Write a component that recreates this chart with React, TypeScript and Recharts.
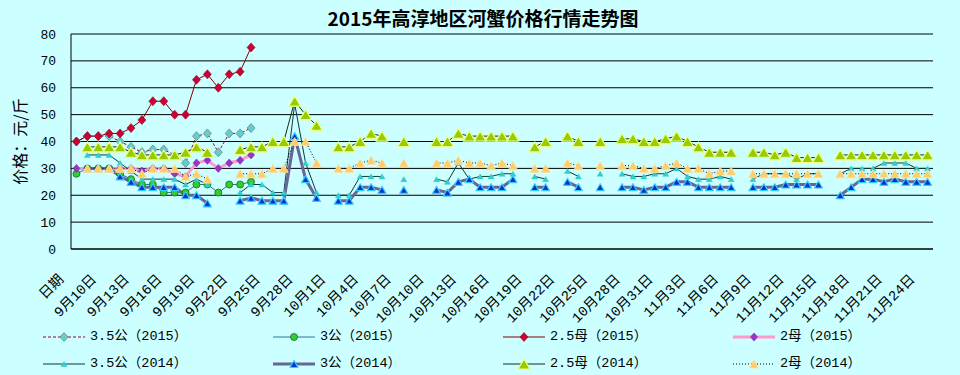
import React from 'react';
import { LineChart, Line, XAxis, YAxis, CartesianGrid, Legend } from 'recharts';

const categories = [
  '日期', '9月8日', '9月9日', '9月10日', '9月11日', '9月12日', '9月13日', '9月14日', '9月15日', '9月16日',
  '9月17日', '9月18日', '9月19日', '9月20日', '9月21日', '9月22日', '9月23日', '9月24日', '9月25日', '9月26日',
  '9月27日', '9月28日', '9月29日', '9月30日', '10月1日', '10月2日', '10月3日', '10月4日', '10月5日', '10月6日',
  '10月7日', '10月8日', '10月9日', '10月10日', '10月11日', '10月12日', '10月13日', '10月14日', '10月15日', '10月16日',
  '10月17日', '10月18日', '10月19日', '10月20日', '10月21日', '10月22日', '10月23日', '10月24日', '10月25日', '10月26日',
  '10月27日', '10月28日', '10月29日', '10月30日', '10月31日', '11月1日', '11月2日', '11月3日', '11月4日', '11月5日',
  '11月6日', '11月7日', '11月8日', '11月9日', '11月10日', '11月11日', '11月12日', '11月13日', '11月14日', '11月15日',
  '11月16日', '11月17日', '11月18日', '11月19日', '11月20日', '11月21日', '11月22日', '11月23日', '11月24日',
];

const n = null;

// 2015 series (first 17 categories)
const gong35_2015 = [40, 42, 42, 42, 40, 38, 36, 37, 37, 35, 32, 42, 43, 36, 43, 43, 45];
const gong3_2015 = [28, 30, 30, 30, 28, 26, 24, 24, 21, 21, 21, 24, 24, 21, 24, 24, 25];
const mu25_2015 = [40, 42, 42, 43, 43, 45, 48, 55, 55, 50, 50, 63, 65, 60, 65, 66, 75];
const mu2_2015 = [30, 30, 30, 30, 30, 30, 29, 30, 30, 28, 27, 32, 33, 30, 32, 33, 35];

// 2014 series (all categories)
const gong35_2014 = [
  n, 35, 35, 35, 32, 29, 26, 26, 26, 26, 24, 26, 24, n, n, 21, 24, 24, 21, 21,
  54, 32, 21, n, 20, 20, 27, 27, 27, n, 26, n, n, 26, 25, 32, 26, 27, 27, 28,
  28, n, 27, 26, n, 29, 27, n, 28, n, 28, 27, 27, 28, 28, 30, 27, 26, 26, 27,
  26, n, 26, 28, 28, 28, 26, 28, 28, n, 28, 30, 30, 30, 32, 32, 32, 30, 30,
];
const gong3_2014 = [
  n, 30, 30, 30, 27, 25, 23, 23, 23, 23, 20, 20, 17, n, n, 18, 19, 18, 18, 18,
  42, 26, 19, n, 18, 18, 23, 23, 22, n, 22, n, n, 22, 21, 25, 26, 23, 23, 23,
  26, n, 23, 23, n, 25, 23, n, 23, n, 23, 23, 22, 23, 23, 25, 25, 23, 23, 23,
  23, n, 23, 23, 23, 24, 24, 24, 24, n, 20, 23, 26, 26, 25, 26, 25, 25, 25,
];
const mu25_2014 = [
  n, 38, 38, 38, 38, 36, 35, 35, 35, 35, 36, 38, 36, n, n, 37, 38, 38, 40, 40,
  55, 50, 46, n, 38, 38, 40, 43, 42, n, 40, n, n, 40, 40, 43, 42, 42, 42, 42,
  42, n, 38, 40, n, 42, 40, n, 40, n, 41, 41, 40, 40, 41, 42, 40, 38, 36, 36,
  36, n, 36, 36, 35, 36, 34, 34, 34, n, 35, 35, 35, 35, 35, 35, 35, 35, 35,
];
const mu2_2014 = [
  n, 30, 30, 30, 30, 30, 28, 30, 30, 30, 27, 28, 26, n, n, 28, 28, 28, 30, 30,
  40, 40, 32, n, 30, 30, 32, 33, 32, n, 32, n, n, 32, 32, 33, 32, 32, 31, 32,
  31, n, 30, 30, n, 32, 31, n, 31, n, 31, 31, 30, 30, 31, 32, 30, 30, 28, 29,
  29, n, 28, 28, 28, 28, 28, 28, 28, n, 28, 28, 28, 28, 28, 28, 28, 28, 28,
];

const yTicks = [0, 10, 20, 30, 40, 50, 60, 70, 80];

type Marker = { shape: 'diamond' | 'circle' | 'tri'; w: number; h: number; fill: string; stroke: string; sw: number };
type SeriesDef = { key: string; name: string; values: (number | null)[]; stroke: string; width: number; dash?: string; marker: Marker };

const seriesDefs: SeriesDef[] = [
  { key: 'g35_15', name: '3.5公（2015）', values: gong35_2015, stroke: '#990033', width: 1, dash: '3 2',
    marker: { shape: 'diamond', w: 8, h: 9, fill: '#66CCCC', stroke: '#5E8F8F', sw: 0.8 } },
  { key: 'g3_15', name: '3公（2015）', values: gong3_2015, stroke: '#2A74A6', width: 1,
    marker: { shape: 'circle', w: 7, h: 7, fill: '#33CC33', stroke: '#1B6B1B', sw: 0.8 } },
  { key: 'm25_15', name: '2.5母（2015）', values: mu25_2015, stroke: '#800000', width: 1,
    marker: { shape: 'diamond', w: 8, h: 9, fill: '#CC0033', stroke: '#990022', sw: 0.6 } },
  { key: 'm2_15', name: '2母（2015）', values: mu2_2015, stroke: '#FF99CC', width: 3,
    marker: { shape: 'diamond', w: 7, h: 8, fill: '#9933CC', stroke: '#7A2A99', sw: 0.6 } },
  { key: 'g35_14', name: '3.5公（2014）', values: gong35_2014, stroke: '#0B3B3B', width: 1,
    marker: { shape: 'tri', w: 6, h: 5, fill: '#33CCCC', stroke: '#33CCCC', sw: 0.5 } },
  { key: 'g3_14', name: '3公（2014）', values: gong3_2014, stroke: '#666699', width: 3,
    marker: { shape: 'tri', w: 8, h: 7, fill: '#0033CC', stroke: '#33CCFF', sw: 1.2 } },
  { key: 'm25_14', name: '2.5母（2014）', values: mu25_2014, stroke: '#1A2A1A', width: 1,
    marker: { shape: 'tri', w: 12, h: 10, fill: '#99CC00', stroke: '#EEFF88', sw: 1.2 } },
  { key: 'm2_14', name: '2母（2014）', values: mu2_2014, stroke: '#000000', width: 1, dash: '1 2',
    marker: { shape: 'tri', w: 9, h: 8, fill: '#FFCC66', stroke: '#FFE0A0', sw: 0.8 } },
];

const chartData = categories.map((c, i) => {
  const row: Record<string, any> = { x: i + 0.5, cat: c };
  seriesDefs.forEach((s) => {
    const v = s.values[i];
    row[s.key] = v === undefined ? null : v;
  });
  return row;
});

const labelTicks = categories.map((_, i) => i).filter((i) => i % 3 === 0).map((i) => i + 0.5);
const boundaryTicks = categories.map((_, i) => i).concat([categories.length]);

const MONO = '"Liberation Mono", "Noto Sans CJK SC", monospace';
const CJK = '"Noto Sans CJK SC", sans-serif';

function drawMarker(m: Marker, cx: number, cy: number, key?: string | number) {
  if (m.shape === 'circle') {
    return <circle key={key} cx={cx} cy={cy} r={m.w / 2} fill={m.fill} stroke={m.stroke} strokeWidth={m.sw} />;
  }
  if (m.shape === 'diamond') {
    const pts = `${cx},${cy - m.h / 2} ${cx + m.w / 2},${cy} ${cx},${cy + m.h / 2} ${cx - m.w / 2},${cy}`;
    return <polygon key={key} points={pts} fill={m.fill} stroke={m.stroke} strokeWidth={m.sw} />;
  }
  const pts = `${cx},${cy - m.h / 2} ${cx + m.w / 2},${cy + m.h / 2} ${cx - m.w / 2},${cy + m.h / 2}`;
  return <polygon key={key} points={pts} fill={m.fill} stroke={m.stroke} strokeWidth={m.sw} strokeLinejoin="round" />;
}

function makeDot(m: Marker) {
  return (props: any) => {
    const { cx, cy, index, value } = props;
    if (cx == null || cy == null || value == null || Number.isNaN(cy)) return <g key={`e${index}`} />;
    return drawMarker(m, cx, cy, `d${index}`);
  };
}

const XLabelTick = (props: any) => {
  const { x, y, payload } = props;
  const label = categories[Math.round(payload.value - 0.5)];
  return (
    <g transform={`translate(${x - 12},${y + 23}) rotate(-45)`}>
      <text x={0} y={0} textAnchor="end" fontFamily={MONO} fontSize={14} fill="#000">
        {label}
      </text>
    </g>
  );
};

const legendCols = [43, 273, 503, 733];
const legendRows = [11, 38];

const LegendContent = () => (
  <div style={{ position: 'relative', width: 960, height: 50 }}>
    {seriesDefs.map((s, i) => {
      const col = legendCols[i % 4];
      const row = legendRows[Math.floor(i / 4)];
      return (
        <div key={s.key} style={{ position: 'absolute', left: col, top: row - 9, height: 18, display: 'flex', alignItems: 'center' }}>
          <svg width={42} height={18} style={{ display: 'block' }}>
            <line x1={0} y1={9} x2={42} y2={9} stroke={s.stroke} strokeWidth={s.width} strokeDasharray={s.dash} />
            {drawMarker(s.marker, 21, 9)}
          </svg>
          <span style={{ marginLeft: 5, fontFamily: MONO, fontSize: 13.5, color: '#000', whiteSpace: 'nowrap', lineHeight: '18px' }}>
            {s.name}
          </span>
        </div>
      );
    })}
  </div>
);

export default function App() {
  return (
    <div style={{ position: 'absolute', left: 0, top: 0, width: 960, height: 375, background: '#CCFFFF', overflow: 'hidden' }}>
      <div
        style={{
          position: 'absolute', left: 0, top: 7, width: 966, textAlign: 'center',
          fontFamily: CJK, fontWeight: 700, fontSize: 19, lineHeight: '22px', color: '#000',
        }}
      >
        2015年高淳地区河蟹价格行情走势图
      </div>
      <LineChart
        width={960}
        height={375}
        data={chartData}
        margin={{ top: 34, right: 27, left: 0, bottom: 66 }}
        style={{ position: 'absolute', left: 0, top: 0 }}
      >
        <CartesianGrid horizontal vertical={false} stroke="#000" strokeWidth={1} xAxisId="main" yAxisId="y" />
        <XAxis
          xAxisId="main"
          type="number"
          dataKey="x"
          domain={[0, categories.length]}
          ticks={labelTicks}
          interval={0}
          tick={<XLabelTick />}
          tickLine={false}
          axisLine={false}
          height={60}
          allowDataOverflow
        />
        <XAxis
          xAxisId="ticks"
          type="number"
          dataKey="x"
          domain={[0, categories.length]}
          ticks={boundaryTicks}
          interval={0}
          tick={false}
          tickSize={4}
          mirror
          axisLine={{ stroke: '#000', strokeWidth: 1 }}
          tickLine={{ stroke: '#000', strokeWidth: 1 }}
          allowDataOverflow
        />
        <YAxis
          yAxisId="y"
          type="number"
          domain={[0, 80]}
          ticks={yTicks}
          interval={0}
          width={71}
          tickLine={false}
          tickSize={6}
          tickMargin={9}
          axisLine={{ stroke: '#000', strokeWidth: 1 }}
          tick={{ fontFamily: MONO, fontSize: 13, fill: '#000' }}
          label={{
            value: '价格：元/斤', angle: -90, position: 'insideLeft', offset: 20,
            style: { textAnchor: 'middle', fontFamily: CJK, fontSize: 16, fill: '#000' },
          }}
        />
        {seriesDefs.map((s) => (
          <Line
            key={s.key}
            xAxisId="main"
            yAxisId="y"
            type="linear"
            dataKey={s.key}
            name={s.name}
            stroke={s.stroke}
            strokeWidth={s.width}
            strokeDasharray={s.dash}
            dot={makeDot(s.marker)}
            activeDot={false}
            isAnimationActive={false}
            connectNulls={false}
          />
        ))}
        <Legend
          verticalAlign="middle"
          align="center"
          layout="horizontal"
          content={<LegendContent />}
          wrapperStyle={{ left: 0, top: 326, width: 960, height: 50 }}
        />
      </LineChart>
    </div>
  );
}
